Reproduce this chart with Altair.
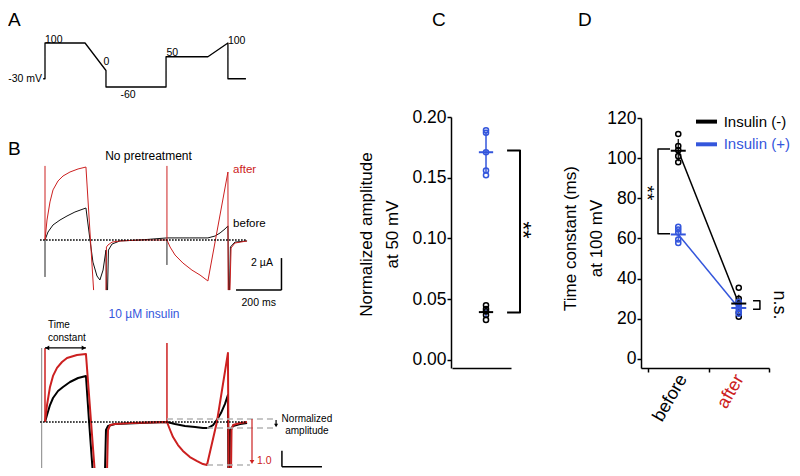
import altair as alt
import pandas as pd

FONT = "Liberation Sans"
RED = "#cc2020"
BLUE = "#3456dc"
GRAY = "#b4b4b4"

# ---------------- Panel A: voltage protocol (ms, mV) ----------------
A_t = [-8, 0, 0, 178, 271, 271, 538, 538, 724, 813, 813, 893]
A_mV = [-30, -30, 100, 100, 0, -60, -60, 50, 50, 100, -30, -30]

# ---------------- Panel B top: no pretreatment (ms, µA) ----------------
BT_red_t = [[0, 8.9, 22.2, 35.6, 57.8, 80, 111, 147, 182, 216],
            [271, 273, 280, 298, 333, 422, 542, 556, 578, 613, 653, 689, 724, 813, 814],
            [822, 827, 844, 898]]
BT_red_I = [[0, 1.25, 2.38, 3.13, 3.69, 4.0, 4.25, 4.44, 4.56, -3.13],
            [-3.13, -0.44, -0.31, -0.13, -0.06, 0, 0, -0.44, -0.94, -1.44, -1.88, -2.19, -2.56, 4.25, -3.13],
            [-3.13, -0.5, -0.19, -0.06]]
BT_blk_t = [[0, 13.3, 35.6, 66.7, 97.8, 133, 182, 200, 213, 231, 244, 258, 271, 273],
            [278, 282, 298, 333, 422, 542, 644, 724, 756, 778, 800, 813, 816],
            [820, 824, 844, 898]]
BT_blk_I = [[0, 0.5, 0.94, 1.25, 1.5, 1.75, 2.0, 0, -1.38, -2.25, -2.5, -1.88, -0.63, -3.13],
            [-3.13, -0.63, -0.25, -0.06, 0, 0.13, 0.13, 0.13, 0.25, 0.44, 0.69, 0.88, -3.13],
            [-3.13, -0.44, -0.13, -0.06]]
BT_spike_t = [0, 542]
BT_red_spike = [4.63, 4.63]
BT_blk_spike = [-2.31, -1.56]

# ---------------- Panel B bottom: 10 µM insulin ----------------
BB_red_t = [[0, 8.9, 22.2, 35.6, 53.3, 75.6, 97.8, 142, 182, 220],
            [276, 280, 289, 311, 378, 542, 556, 569, 591, 613, 644, 676, 702, 720, 764, 813, 816],
            [827, 829, 836, 867, 898]]
BB_red_I = [[0, 1.06, 2.19, 2.88, 3.38, 3.75, 4.0, 4.19, 4.25, -2.875],
            [-2.875, -0.5, -0.19, -0.13, -0.06, 0, -0.5, -0.94, -1.44, -1.81, -2.19, -2.44, -2.63, -2.69, 0, 4.31, -2.875],
            [-2.875, -0.5, -0.19, -0.06, 0]]
BB_blk_t = [[0, 8.9, 22.2, 35.6, 57.8, 80, 111, 147, 182, 196, 211],
            [267, 271, 280, 311, 422, 542, 578, 622, 667, 702, 724, 747, 764, 782, 800, 813, 815],
            [820, 822, 836, 867, 898]]
BB_blk_I = [[0, 0.44, 1.06, 1.5, 1.94, 2.19, 2.5, 2.75, 2.88, 0, -2.875],
            [-2.875, -0.5, -0.25, -0.13, -0.06, 0, -0.13, -0.25, -0.31, -0.38, -0.38, -0.19, 0.13, 0.56, 1.13, 1.69, -2.875],
            [-2.875, -0.5, -0.25, -0.13, -0.06]]
BB_red_spike_t = [0, 542]
BB_red_spike = [4.63, 4.94]
BB_gray_t = [-15]
BB_gray_lo, BB_gray_hi = [-2.875], [4.63]

# ---------------- Panel C: normalized amplitude at 50 mV ----------------
C_black = [0.045, 0.042, 0.040, 0.037, 0.033]
C_blue = [0.189, 0.187, 0.171, 0.156, 0.152]
C_mean = [0.0394, 0.171]
C_lo = [0.035, 0.154]
C_hi = [0.044, 0.188]
C_pos = 1.0

# ---------------- Panel D: time constant at 100 mV ----------------
D_cats = ["before", "after"]
D_pos = [0.5, 1.5]
D_black = [[112, 106, 104, 101, 98], [35.5, 30, 28.5, 23, 21]]
D_blue = [[65.8, 64.5, 63, 59.5, 57.8], [28.5, 27, 25.3, 23.7, 22.5]]
D_black_mean = [103.7, 27.6]
D_blue_mean = [62.0, 25.4]
D_black_lo, D_black_hi = [98.5, 23.0], [109.5, 32.0]
D_blue_lo, D_blue_hi = [59.0, 23.5], [65.0, 27.5]
D_legend = ["Insulin (-)", "Insulin (+)"]
D_legend_y = [118.2, 106.9]

# ---------------- scales (panel placement) ----------------
def sc(d, r):
    return alt.Scale(domain=d, range=r, nice=False, zero=False)

T = sc([0, 900], [37, 239.5])
AY = sc([-60, 100], [79, 35])
BTY = sc([-3, 4.5], [280, 160])
BBY = sc([-2.875, 5], [460, 334])
CX = sc([0, 1.735], [444, 503])
CY = sc([-0.0066, 0.2], [360, 109])
DX = sc([-0.116, 2], [633, 761])
DY = sc([-4.5, 120], [360, 110])


def exy(xs, ys, xaxis=None, yaxis=None):
    return dict(x=alt.X("x:Q", scale=xs, axis=xaxis), y=alt.Y("y:Q", scale=ys, axis=yaxis))


def segs(xx, yy, xs, ys, color, width, dash=None):
    rows = []
    for s, (a, b) in enumerate(zip(xx, yy)):
        for i, (u, v) in enumerate(zip(a, b)):
            rows.append({"x": u, "y": v, "seg": s, "i": i})
    props = dict(color=color, strokeWidth=width, strokeJoin="round")
    if dash:
        props["strokeDash"] = dash
    return alt.Chart(pd.DataFrame(rows)).mark_line(**props).encode(
        **exy(xs, ys), detail="seg:N", order="i:Q")


def rules(x, y, x2, y2, xs, ys, color, width, dash=None):
    df = pd.DataFrame({"x": x, "y": y, "x2": x2, "y2": y2})
    props = dict(color=color, strokeWidth=width)
    if dash:
        props["strokeDash"] = dash
    return alt.Chart(df).mark_rule(**props).encode(**exy(xs, ys), x2="x2:Q", y2="y2:Q")


def text(labels, x, y, xs, ys, size, align="left", baseline="middle", color="black", angle=0):
    df = pd.DataFrame({"x": x, "y": y, "label": labels})
    return alt.Chart(df).mark_text(font=FONT, fontSize=size, align=align, baseline=baseline,
                                   color=color, angle=angle).encode(**exy(xs, ys), text="label:N")


def pts(x, y, xs, ys, color, shape="circle", size=26, filled=False, xaxis=None, yaxis=None):
    df = pd.DataFrame({"x": x, "y": y})
    if filled:
        m = alt.Chart(df).mark_point(shape=shape, filled=True, color=color, size=size, opacity=1)
    else:
        m = alt.Chart(df).mark_point(shape=shape, filled=False, color=color, size=size,
                                     strokeWidth=1.5, opacity=1)
    return m.encode(**exy(xs, ys, xaxis, yaxis))


layers = []

# ---- Panel A ----
layers.append(segs([A_t], [A_mV], T, AY, "black", 1.3))
layers.append(text(["A"], [-164], [161.8], T, AY, 19, baseline="alphabetic"))
layers.append(text(["-30 mV"], [-13], [-30], T, AY, 10.5, align="right"))
layers.append(text(["100", "50", "100"], [0, 540, 813], [101, 54.5, 97], T, AY, 10.5, baseline="alphabetic"))
layers.append(text(["0", "-60"], [273, 369], [20, -100], T, AY, 10.5, align="center", baseline="alphabetic"))

# ---- Panel B top ----
layers.append(rules(BT_spike_t, [0, 0], BT_spike_t, BT_blk_spike, T, BTY, "#222222", 1))
layers.append(segs(BT_blk_t, BT_blk_I, T, BTY, "#111111", 1))
layers.append(rules(BT_spike_t, [0, 0], BT_spike_t, BT_red_spike, T, BTY, RED, 1))
layers.append(segs(BT_red_t, BT_red_I, T, BTY, RED, 1))
layers.append(rules([-22], [0], [898], [0], T, BTY, "black", 1.6, dash=[1.6, 1.4]))
layers.append(text(["B"], [-164], [5.31], T, BTY, 19, baseline="alphabetic"))
layers.append(text(["No pretreatment"], [460], [5.25], T, BTY, 12, align="center"))
layers.append(text(["after"], [836], [4.38], T, BTY, 11.5, color=RED))
layers.append(text(["before"], [836], [1.0], T, BTY, 11.5))
layers.append(text(["2 µA"], [916], [-1.44], T, BTY, 10.5))
layers.append(rules([1051, 849], [-1.13, -3.13], [1051, 1051], [-3.13, -3.13], T, BTY, "black", 1.5))
layers.append(text(["200 ms"], [950], [-3.94], T, BTY, 10.5, align="center"))

# ---- Panel B bottom ----
layers.append(rules(BB_gray_t, BB_gray_lo, BB_gray_t, BB_gray_hi, T, BBY, "#999999", 1.2))
layers.append(segs(BB_blk_t, BB_blk_I, T, BBY, "black", 2))
layers.append(rules(BB_red_spike_t, [0, 0], BB_red_spike_t, BB_red_spike, T, BBY, RED, 1.5))
layers.append(segs(BB_red_t, BB_red_I, T, BBY, RED, 2))
layers.append(rules([-22], [0], [898], [0], T, BBY, "black", 1.6, dash=[1.6, 1.4]))
layers.append(text(["10 µM insulin"], [440], [6.75], T, BBY, 12, align="center", color=BLUE))
layers.append(text(["Time", "constant"], [13, 13], [6.06, 5.28], T, BBY, 10))
layers.append(rules([0], [4.63], [182], [4.63], T, BBY, "black", 1.2))
layers.append(pts([10], [4.63], T, BBY, "black", shape="triangle-left", size=22, filled=True))
layers.append(pts([172], [4.63], T, BBY, "black", shape="triangle-right", size=22, filled=True))
layers.append(rules([542, 720, 720], [0.19, -0.38, -2.69], [1031, 1031, 911], [0.19, -0.38, -2.69],
                    T, BBY, GRAY, 1.5, dash=[6, 4]))
layers.append(rules([920], [0.19], [920], [-2.45], T, BBY, RED, 1.2))
layers.append(pts([920], [-2.5], T, BBY, RED, shape="triangle-down", size=22, filled=True))
layers.append(text(["1.0"], [942], [-2.45], T, BBY, 10.5, color=RED))
layers.append(rules([1027], [0.13], [1027], [-0.2], T, BBY, "black", 1.2))
layers.append(pts([1027], [-0.22], T, BBY, "black", shape="triangle-down", size=16, filled=True))
layers.append(text(["Normalized", "amplitude"], [1164, 1164], [0.16, -0.59], T, BBY, 10, align="center"))
layers.append(rules([1053, 1053], [-1.8, -2.8], [1053, 1231], [-2.8, -2.8], T, BBY, "black", 1.5))

# ---- Panel C ----
axc = dict(grid=False, tickColor="black", domainColor="black", domainWidth=1.5, tickWidth=1.5,
           labelFont=FONT, labelColor="black", titleFont=FONT, titleColor="black",
           titleFontWeight="normal")
C_YAXIS = alt.Axis(orient="left", offset=-443, values=[0, 0.05, 0.10, 0.15, 0.20], format=".2f",
                   tickSize=4, labelFontSize=17.5, labelPadding=1,
                   title=["Normalized amplitude", "at 50 mV"], titleFontSize=17,
                   titleAngle=270, titleAlign="center", titleBaseline="bottom",
                   titleX=-76, titleY=226, titleLineHeight=26, **axc)
C_XAXIS = alt.Axis(orient="bottom", offset=-100, ticks=False, labels=False, title=None, **axc)

layers.append(rules([C_pos, C_pos], C_lo, [C_pos, C_pos], C_hi, CX, CY, BLUE, 1.5))
layers.append(pts([C_pos] * 5, C_black, CX, CY, "black", xaxis=C_XAXIS, yaxis=C_YAXIS))
layers.append(pts([C_pos] * 5, C_blue, CX, CY, BLUE))
layers.append(rules([0.79], [C_mean[0]], [1.21], [C_mean[0]], CX, CY, "black", 2))
layers.append(rules([0.79], [C_mean[1]], [1.21], [C_mean[1]], CX, CY, BLUE, 2))
layers.append(segs([[1.62, 2.0, 2.0, 1.62]], [[0.1725, 0.1725, 0.039, 0.039]], CX, CY, "black", 2))
layers.append(text(["**"], [2.1], [0.107], CX, CY, 22, align="center", angle=90))
layers.append(text(["C"], [-0.59], [0.2749], CX, CY, 19, baseline="alphabetic"))

# ---- Panel D ----
D_YAXIS = alt.Axis(orient="left", offset=-633, values=[0, 20, 40, 60, 80, 100, 120], format="d",
                   tickSize=4, labelFontSize=17.5, labelPadding=1,
                   title=["Time constant (ms)", "at 100 mV"], titleFontSize=17,
                   titleAngle=270, titleAlign="center", titleBaseline="bottom",
                   titleX=-62, titleY=230, titleLineHeight=26, **axc)
D_XAXIS = alt.Axis(orient="bottom", offset=-100, values=[0, 1, 2], labels=False, tickSize=4,
                   title=None, **axc)

layers.append(rules([D_pos[0]], [D_black_mean[0]], [D_pos[1]], [D_black_mean[1]], DX, DY, "black", 1.5))
layers.append(rules([D_pos[0]], [D_blue_mean[0]], [D_pos[1]], [D_blue_mean[1]], DX, DY, BLUE, 1.5))
layers.append(rules(D_pos, D_black_lo, D_pos, D_black_hi, DX, DY, "black", 1.2))
layers.append(rules(D_pos, D_blue_lo, D_pos, D_blue_hi, DX, DY, BLUE, 1.2))
layers.append(pts([D_pos[0]] * 5 + [D_pos[1]] * 5, D_black[0] + D_black[1], DX, DY, "black",
                  xaxis=D_XAXIS, yaxis=D_YAXIS))
layers.append(pts([D_pos[0]] * 5 + [D_pos[1]] * 5, D_blue[0] + D_blue[1], DX, DY, BLUE))
layers.append(rules([p - 0.124 for p in D_pos], D_black_mean, [p + 0.124 for p in D_pos], D_black_mean,
                    DX, DY, "black", 2))
layers.append(rules([p - 0.124 for p in D_pos], D_blue_mean, [p + 0.124 for p in D_pos], D_blue_mean,
                    DX, DY, BLUE, 2))
layers.append(segs([[0.364, 0.165, 0.165, 0.364]], [[104.5, 104.5, 62.3, 62.3]], DX, DY, "black", 1.5))
layers.append(text(["**"], [-0.02], [82.7], DX, DY, 19, align="center", angle=90))
layers.append(segs([[1.736, 1.85, 1.85, 1.736]], [[29, 29, 24.8, 24.8]], DX, DY, "black", 1.5))
layers.append(text(["n.s."], [2.17], [26.9], DX, DY, 18, align="center", angle=90))
layers.append(text(["before"], [0.58], [-8.5], DX, DY, 18, align="right", angle=300))
layers.append(text(["after"], [1.52], [-8.5], DX, DY, 18, align="right", angle=300, color=RED))
layers.append(rules([0.793], [D_legend_y[0]], [1.14], [D_legend_y[0]], DX, DY, "black", 4))
layers.append(rules([0.793], [D_legend_y[1]], [1.14], [D_legend_y[1]], DX, DY, BLUE, 4))
layers.append(text([D_legend[0]], [1.25], [D_legend_y[0]], DX, DY, 15))
layers.append(text([D_legend[1]], [1.25], [D_legend_y[1]], DX, DY, 15, color=BLUE))
layers.append(text(["D"], [-1.157], [165.8], DX, DY, 19, baseline="alphabetic"))

chart = alt.layer(*layers).resolve_scale(x="independent", y="independent").properties(
    width=784, height=460, padding=0, background="white",
    autosize=alt.AutoSizeParams(type="none"),
).configure_view(stroke=None)

chart.save("out.html", embed_options={"renderer": "svg", "actions": False})
